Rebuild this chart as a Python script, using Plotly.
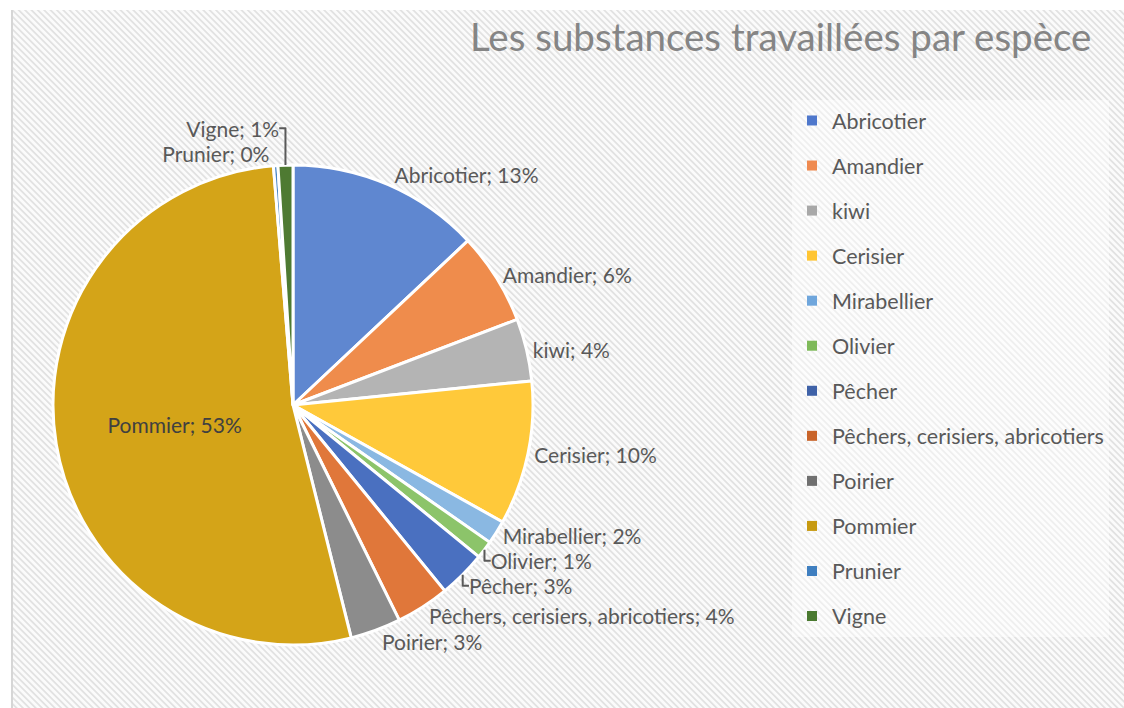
import base64
import plotly.graph_objects as go

categories = ["Abricotier", "Amandier", "kiwi", "Cerisier", "Mirabellier", "Olivier",
              "Pêcher", "Pêchers, cerisiers, abricotiers", "Poirier", "Pommier",
              "Prunier", "Vigne"]
values = [13.0, 6.2, 4.2, 9.7, 1.6, 1.2, 3.2, 3.6, 3.4, 52.6, 0.3, 1.0]
slice_colors = ["#5f87d0", "#ef8c4c", "#b4b4b4", "#ffc93a", "#8ab8e2", "#8cc46a",
                "#4a70c0", "#e0773a", "#8c8c8c", "#d4a418", "#4a86c4", "#4e7a32"]
legend_colors = ["#4f78cc", "#ef8a50", "#a8a8a8", "#ffc533", "#6fa6dc", "#7fba5a",
                 "#3f62a8", "#c9642a", "#707070", "#c79a10", "#3f7fc0", "#4a7a30"]
title_text = "Les substances travaillées par espèce"

W, H = 1124, 708
FONT = "Lato, 'Open Sans', sans-serif"

# hatched background as inline SVG
svg = (
    "<svg xmlns='http://www.w3.org/2000/svg' width='1113' height='698'>"
    "<defs><pattern id='p' width='4.5' height='4.5' patternUnits='userSpaceOnUse' "
    "patternTransform='rotate(-45)'>"
    "<rect width='4.5' height='4.5' fill='#fbfbfb'/>"
    "<rect width='1.8' height='4.5' fill='#e2e2e2'/></pattern></defs>"
    "<rect width='1113' height='698' fill='url(#p)'/>"
    "<rect width='2' height='698' fill='#d6d6d6'/>"
    "</svg>"
)
svg_uri = "data:image/svg+xml;base64," + base64.b64encode(svg.encode()).decode()

fig = go.Figure()

text_pos = ["outside"] * len(categories)
text_pos[categories.index("Pommier")] = "inside"

fig.add_trace(go.Pie(
    labels=categories,
    values=values,
    sort=False,
    direction="clockwise",
    rotation=0,
    marker=dict(colors=slice_colors, line=dict(color="white", width=3)),
    texttemplate="%{label}; %{percent:.0%}",
    textposition=text_pos,
    insidetextorientation="horizontal",
    outsidetextfont=dict(family=FONT, size=21, color="#595959"),
    insidetextfont=dict(family=FONT, size=21, color="#404040"),
    domain=dict(x=[53 / W, 533 / W], y=[1 - 645 / H, 1 - 165 / H]),
    showlegend=False,
    hoverinfo="label+percent",
))

for i, (name, col) in enumerate(zip(categories, legend_colors)):
    fig.add_trace(go.Scatter(
        x=[None], y=[None], mode="markers", name=name,
        legendgroup=f"g{i}",
        marker=dict(symbol="square", size=10, color=col),
        showlegend=True,
    ))

fig.update_layout(
    width=W, height=H,
    margin=dict(l=0, r=0, t=0, b=0),
    paper_bgcolor="white",
    plot_bgcolor="rgba(0,0,0,0)",
    xaxis=dict(visible=False),
    yaxis=dict(visible=False),
    title=dict(text=title_text, x=470 / W, xanchor="left", y=1 - 38 / H, yanchor="middle",
               font=dict(family=FONT, size=38.5, color="#858585")),
    legend=dict(x=792 / W, xanchor="left", y=1 - 100 / H, yanchor="top",
                bgcolor="rgba(255,255,255,0.45)", tracegroupgap=14.1,
                font=dict(family=FONT, size=21.5, color="#595959")),
    images=[dict(source=svg_uri, xref="paper", yref="paper",
                 x=11 / W, y=1 - 10 / H, sizex=1 - 11 / W, sizey=1 - 10 / H,
                 xanchor="left", yanchor="top", sizing="stretch", layer="below")],
)

fig.write_html("out.html")
